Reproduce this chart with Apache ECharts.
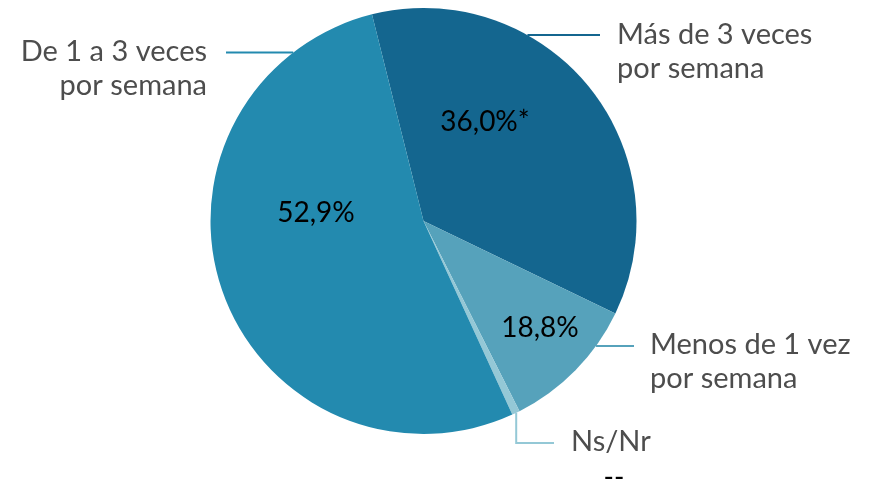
<!DOCTYPE html>
<html>
<head>
<meta charset="utf-8">
<script src="https://cdn.jsdelivr.net/npm/echarts@6/dist/echarts.min.js"></script>
<style>html,body{margin:0;background:#fff}#miGrafica{width:877px;height:485px}</style>
</head>
<body>
<div id="miGrafica"></div>
<script>
// Frecuencia semanal (gráfica de tarta)
var categorias = ['Más de 3 veces\npor semana', 'Menos de 1 vez\npor semana', 'Ns/Nr', 'De 1 a 3 veces\npor semana'];
var valores = [36.0, 10.4, 0.6, 52.9];
var etiquetas = ['36,0%*', '18,8%', '--', '52,9%'];
var colores = ['#14668f', '#56a2bb', '#94c8d6', '#238aaf'];

var centro = [423.5, 221];
var radio = 213;

// punto del borde, ángulo en grados desde las 12 en sentido horario
function borde(ang) {
    var r = ang * Math.PI / 180;
    return [centro[0] + radio * Math.sin(r), centro[1] - radio * Math.cos(r)];
}

// etiquetas exteriores: donde toca la línea, dónde acaba y dónde va el texto
var exteriores = [
    { ang: 29.2, fin: 600, x: 617, y: 35, align: 'left' },
    { ang: 125.9, fin: 634, x: 650, y: 345, align: 'left' },
    { ang: 154.2, fin: 554, x: 571, y: 442, align: 'left', codo: 443 },
    { ang: 322.3, fin: 226, x: 207, y: 52, align: 'right' }
];
// etiquetas de valor dentro de la tarta
var interiores = [[485, 122], [540, 328], [614, 478], [316, 213]];

var dom = document.getElementById('miGrafica');
var myChart = echarts.init(dom, null, { renderer: 'canvas' });

var datos = categorias.map(function (c, i) {
    return { name: c, value: valores[i], itemStyle: { color: colores[i] } };
});

var option = {
    animation: false,
    series: [
        {
            type: 'pie',
            center: centro,
            radius: radio,
            startAngle: 104,
            clockwise: true,
            data: datos,
            label: {
                show: true,
                fontFamily: 'Lato',
                fontSize: 29,
                lineHeight: 34,
                color: '#4d4d4d',
                verticalAlign: 'top',
                overflow: 'none',
                width: 300
            },
            labelLine: { show: true, lineStyle: { width: 2 } },
            labelLayout: function (p) {
                var e = exteriores[p.dataIndex];
                var a = borde(e.ang);
                var puntos;
                if (e.codo) {
                    puntos = [a, [a[0], e.codo], [e.fin, e.codo]];
                } else {
                    puntos = [a, [(a[0] + e.fin) / 2, a[1]], [e.fin, a[1]]];
                }
                return {
                    x: e.x,
                    y: e.y - 17,
                    align: e.align,
                    verticalAlign: 'top',
                    labelLinePoints: puntos
                };
            }
        },
        {
            type: 'pie',
            silent: true,
            center: centro,
            radius: radio,
            startAngle: 104,
            clockwise: true,
            data: valores.map(function (v, i) {
                return { name: etiquetas[i], value: v };
            }),
            itemStyle: { color: 'rgba(0,0,0,0)' },
            label: {
                show: true,
                position: 'inside',
                formatter: '{b}',
                fontFamily: 'Lato',
                fontSize: 28,
                color: '#000'
            },
            labelLine: { show: false },
            labelLayout: function (p) {
                var q = interiores[p.dataIndex];
                return { x: q[0], y: q[1], align: 'center', verticalAlign: 'middle' };
            }
        }
    ]
};

myChart.setOption(option);
window.addEventListener('resize', myChart.resize);
</script>
</body>
</html>
